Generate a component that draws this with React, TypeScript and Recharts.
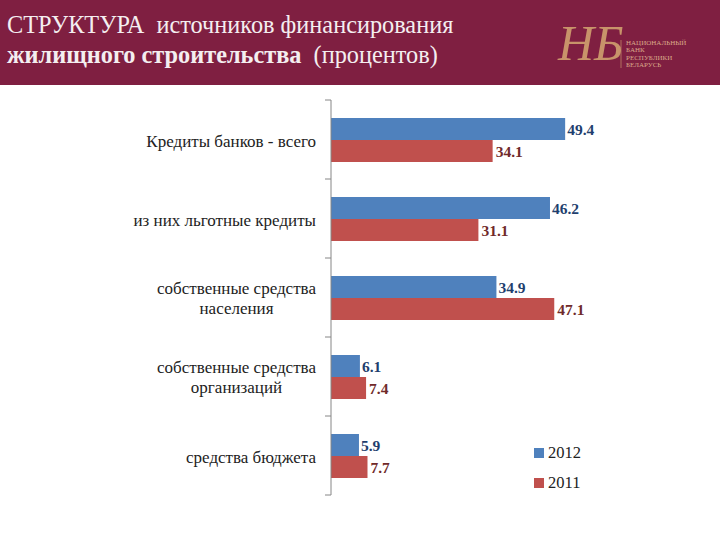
import React from "react";
import { BarChart, Bar, XAxis, YAxis, LabelList, Legend } from "recharts";

const categories = [
  "Кредиты банков - всего",
  "из них льготные кредиты",
  "собственные средства|населения",
  "собственные средства|организаций",
  "средства бюджета",
];
const values2012 = [49.4, 46.2, 34.9, 6.1, 5.9];
const values2011 = [34.1, 31.1, 47.1, 7.4, 7.7];
const titleLine1 = "СТРУКТУРА  источников финансирования";
const titleLine2Bold = "жилищного строительства";
const titleLine2Rest = "  (процентов)";
const logoLines = ["НАЦИОНАЛЬНЫЙ", "БАНК", "РЕСПУБЛИКИ", "БЕЛАРУСЬ"];

const BLUE = "#4f81bd";
const RED = "#c0504d";
const FONT = "'Liberation Serif', serif";
const PLOT_H = 395;
const BAND = PLOT_H / categories.length;

const data = categories.map((c, i) => ({ name: c, y2012: values2012[i], y2011: values2011[i] }));

function CategoryTick(props: any) {
  const { x, y, payload, index } = props;
  const lines = String(payload.value).split("|");
  const axisX = x;
  const twoLines = lines.length > 1;
  const labelX = twoLines ? x - 15 - 79.5 : x - 15;
  return (
    <g>
      <line x1={axisX - 6} x2={axisX} y1={y - BAND / 2} y2={y - BAND / 2} stroke="#868686" />
      {index === categories.length - 1 && (
        <line x1={axisX - 6} x2={axisX} y1={y + BAND / 2} y2={y + BAND / 2} stroke="#868686" />
      )}
      <text x={labelX} y={y} textAnchor={twoLines ? "middle" : "end"} fontFamily={FONT} fontSize={17} fill="#222">
        {lines.map((l, i) => (
          <tspan key={i} x={labelX} dy={i === 0 ? (twoLines ? -4 : 7) : 20}>
            {l}
          </tspan>
        ))}
      </text>
    </g>
  );
}

function LegendBox() {
  const items = [
    { label: "2012", color: BLUE },
    { label: "2011", color: RED },
  ];
  return (
    <div style={{ fontFamily: FONT, fontSize: 16.5, color: "#222" }}>
      {items.map((it) => (
        <div key={it.label} style={{ display: "flex", alignItems: "center", height: 30 }}>
          <span style={{ width: 10, height: 10, background: it.color, marginRight: 4 }} />
          {it.label}
        </div>
      ))}
    </div>
  );
}

export default function App() {
  return (
    <div style={{ position: "absolute", left: 0, top: 0, width: 720, height: 540, background: "#fff" }}>
      <div style={{ position: "absolute", left: 0, top: 0, width: 720, height: 85, background: "#7f1f41" }} />
      <div style={{ position: "absolute", left: 7, top: 10, fontFamily: FONT, fontSize: 24.3, lineHeight: "30px", color: "#f4eef0", whiteSpace: "pre" }}>
        <div>{titleLine1}</div>
        <div>
          <b>{titleLine2Bold}</b>
          {titleLine2Rest}
        </div>
      </div>
      <svg style={{ position: "absolute", left: 550, top: 10 }} width={150} height={70}>
        <text x={8} y={50} fontFamily={FONT} fontStyle="italic" fontSize={50} fill="#c8936a">НБ</text>
        <line x1={71} x2={71} y1={30} y2={58} stroke="#c8936a" strokeWidth={0.7} />
        {logoLines.map((l, i) => (
          <text key={l} x={76} y={35 + i * 7.3} fontFamily={FONT} fontSize={7} fill="#d9a98a">{l}</text>
        ))}
      </svg>
      <div style={{ position: "absolute", left: 0, top: 0 }}>
        <BarChart
          width={720}
          height={540}
          layout="vertical"
          data={data}
          barGap={0}
          barSize={22}
          margin={{ top: 100, bottom: 45, left: 316, right: 24.6 }}
        >
          <XAxis type="number" domain={[0, 60]} hide />
          <YAxis
            type="category"
            dataKey="name"
            width={15}
            axisLine={{ stroke: "#868686" }}
            tickLine={false}
            tickMargin={0}
            tickSize={0}
            interval={0}
            tick={<CategoryTick />}
          />
          <Legend
            layout="vertical"
            align="right"
            verticalAlign="bottom"
            width={80}
            content={<LegendBox />}
            wrapperStyle={{ position: "absolute", left: 534, top: 438, width: 80 }}
          />
          <Bar dataKey="y2012" fill={BLUE} isAnimationActive={false}>
            <LabelList dataKey="y2012" position="right" offset={2} fontFamily={FONT} fontSize={15.5} fontWeight="bold" fill="#1f3f6e" />
          </Bar>
          <Bar dataKey="y2011" fill={RED} isAnimationActive={false}>
            <LabelList dataKey="y2011" position="right" offset={3} fontFamily={FONT} fontSize={15.5} fontWeight="bold" fill="#702a2a" />
          </Bar>
        </BarChart>
      </div>
    </div>
  );
}
